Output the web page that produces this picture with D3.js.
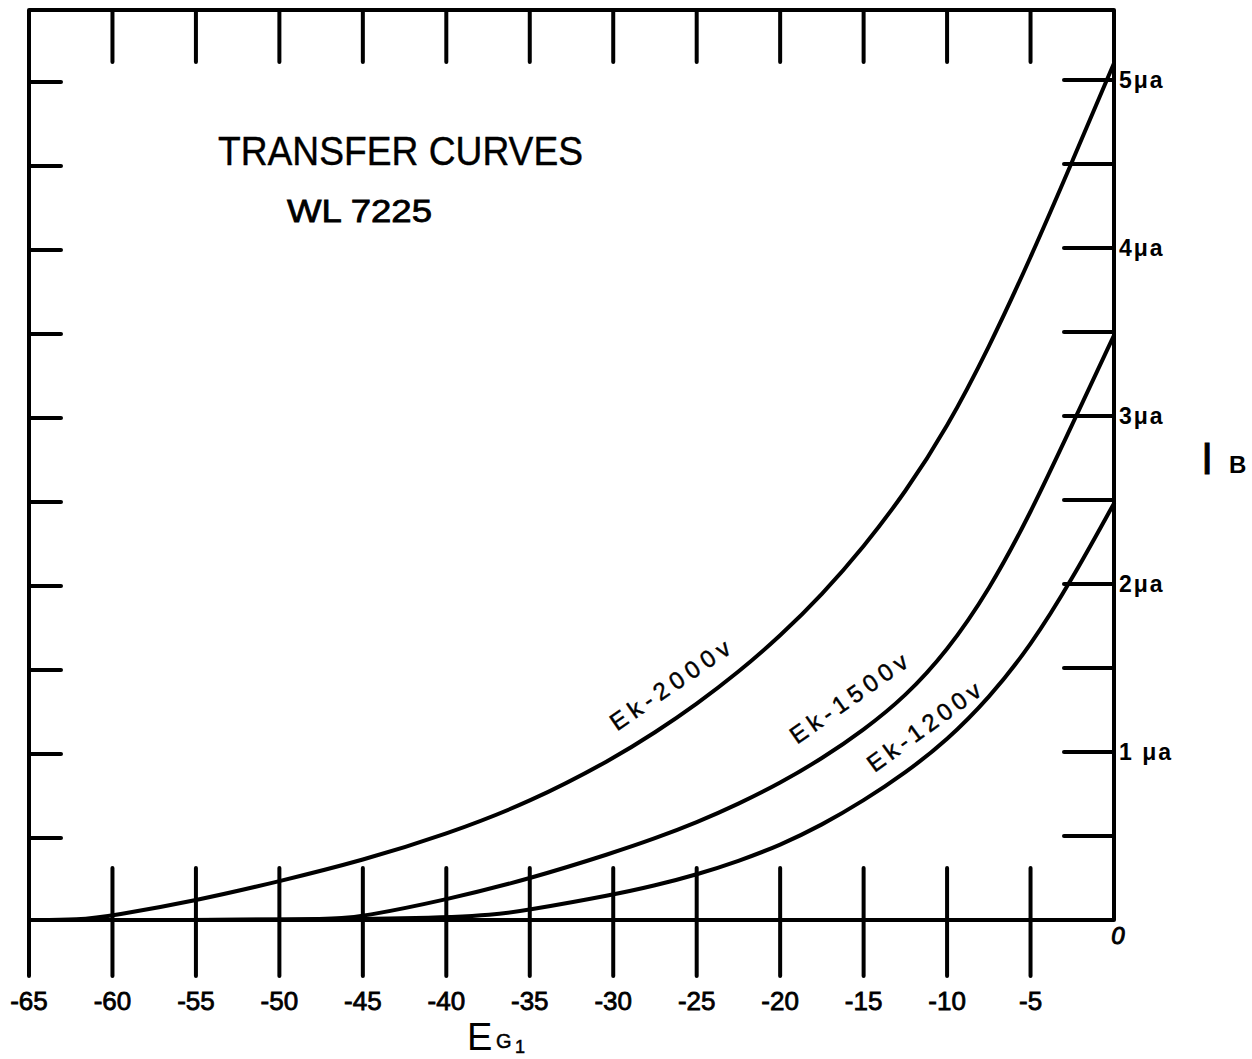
<!DOCTYPE html>
<html>
<head>
<meta charset="utf-8">
<script src="https://cdn.jsdelivr.net/npm/d3@7"></script>
<style>
  html, body { margin: 0; padding: 0; background: #fff; }
  svg { display: block; }
  text { font-family: "Liberation Sans", Arial, sans-serif; fill: #000; }
</style>
</head>
<body>
<svg id="chart" width="1252" height="1059"></svg>
<script>
// ---- Data ----
const gridVoltage2000 = [-65, -62, -60, -55, -50, -45, -40, -35, -30, -27.5, -25, -22.5, -20, -17.5, -15, -12.5, -10, -7.5, -5, -2.5, 0];
const ek2000 = [0, 0, 0.025, 0.115, 0.23, 0.355, 0.51, 0.70, 0.96, 1.115, 1.285, 1.475, 1.69, 1.935, 2.22, 2.545, 2.93, 3.405, 3.94, 4.515, 5.10];
const gridVoltage1500 = [-65, -47, -45, -40, -35, -30, -27.5, -25, -22.5, -20, -17.5, -15, -12.5, -10, -7.5, -5, -2.5, 0];
const ek1500 = [0, 0, 0.02, 0.12, 0.245, 0.40, 0.485, 0.58, 0.69, 0.815, 0.96, 1.13, 1.33, 1.60, 1.96, 2.42, 2.95, 3.48];
const gridVoltage1200 = [-65, -39, -35, -30, -27.5, -25, -22.5, -20, -17.5, -15, -12.5, -10, -7.5, -5, -2.5, 0];
const ek1200 = [0, 0, 0.06, 0.15, 0.205, 0.27, 0.35, 0.445, 0.565, 0.71, 0.875, 1.07, 1.32, 1.63, 2.03, 2.48];
const seriesNames = ["Ek-2000v", "Ek-1500v", "Ek-1200v"];
const xTickValues = [-65, -60, -55, -50, -45, -40, -35, -30, -25, -20, -15, -10, -5];
const xTickLabels = ["-65", "-60", "-55", "-50", "-45", "-40", "-35", "-30", "-25", "-20", "-15", "-10", "-5"];
const yTickValues = [0.5, 1, 1.5, 2, 2.5, 3, 3.5, 4, 4.5, 5];
const yLabelValues = [1, 2, 3, 4, 5];
const yLabelTexts = ["1 \u03bca", "2\u03bca", "3\u03bca", "4\u03bca", "5\u03bca"];

// ---- Layout ----
const svg = d3.select("#chart");
const x = d3.scaleLinear().domain([-65, 0]).range([29, 1114]);
const y = d3.scaleLinear().domain([0, 5]).range([920, 80]);
const frameTop = 10;
const SW = 4;

const g = svg.append("g");

// frame (left, top, right, bottom)
g.append("path")
  .attr("d", `M${x(-65)},${y(0) + 56} L${x(-65)},${frameTop} L${x(0)},${frameTop} L${x(0)},${y(0)} L${x(-65)},${y(0)}`)
  .attr("fill", "none").attr("stroke", "#000").attr("stroke-width", SW)
  .attr("stroke-linejoin", "round").attr("stroke-linecap", "round");

const innerX = xTickValues.filter(v => v !== -65);

// top ticks
g.selectAll(".ttick").data(innerX).join("line")
  .attr("x1", d => x(d)).attr("x2", d => x(d))
  .attr("y1", frameTop).attr("y2", frameTop + 52)
  .attr("stroke", "#000").attr("stroke-width", SW).attr("stroke-linecap", "round");

// bottom ticks crossing the axis
g.selectAll(".btick").data(innerX).join("line")
  .attr("x1", d => x(d)).attr("x2", d => x(d))
  .attr("y1", y(0) - 52).attr("y2", y(0) + 56)
  .attr("stroke", "#000").attr("stroke-width", SW).attr("stroke-linecap", "round");

// left ticks
g.selectAll(".ltick").data(yTickValues).join("line")
  .attr("x1", x(-65)).attr("x2", x(-65) + 32)
  .attr("y1", d => y(d) + 2).attr("y2", d => y(d) + 2)
  .attr("stroke", "#000").attr("stroke-width", SW).attr("stroke-linecap", "round");

// right ticks
g.selectAll(".rtick").data(yTickValues).join("line")
  .attr("x1", x(0) - 50).attr("x2", x(0))
  .attr("y1", d => y(d)).attr("y2", d => y(d))
  .attr("stroke", "#000").attr("stroke-width", SW).attr("stroke-linecap", "round");

// x tick labels
g.selectAll(".xlab").data(xTickValues).join("text")
  .attr("x", d => x(d)).attr("y", y(0) + 90)
  .attr("text-anchor", "middle")
  .attr("font-size", 26)
  .attr("stroke", "#000").attr("stroke-width", 0.8)
  .text((d, i) => xTickLabels[i]);

// zero label
g.append("text")
  .attr("x", x(0) + 4).attr("y", y(0) + 24)
  .attr("text-anchor", "middle").attr("font-size", 24).attr("font-style", "italic")
  .attr("stroke", "#000").attr("stroke-width", 1)
  .text("0");

// right labels
g.selectAll(".ylab").data(yLabelValues).join("text")
  .attr("x", x(0) + 5).attr("y", d => y(d) + 8)
  .attr("font-size", 23).attr("font-weight", "bold")
  .attr("letter-spacing", 2)
  .text((d, i) => yLabelTexts[i]);

// curves
const line = d3.line()
  .x(d => x(d[0])).y(d => y(d[1]))
  .curve(d3.curveBasis);
const series = [
  d3.zip(gridVoltage2000, ek2000),
  d3.zip(gridVoltage1500, ek1500),
  d3.zip(gridVoltage1200, ek1200)
];
g.selectAll(".curve").data(series).join("path")
  .attr("d", line)
  .attr("fill", "none").attr("stroke", "#000").attr("stroke-width", 4)
  .attr("stroke-linecap", "round");

// curve labels
const labelPos = [[-26.6, 1.40, -34.5], [-15.9, 1.32, -35], [-11.4, 1.15, -36]];
g.selectAll(".clab").data(seriesNames).join("text")
  .attr("transform", (d, i) => `translate(${x(labelPos[i][0])},${y(labelPos[i][1])}) rotate(${labelPos[i][2]})`)
  .attr("text-anchor", "middle").attr("dy", "0.35em")
  .attr("font-family", "DejaVu Sans, sans-serif")
  .attr("font-size", 24)
  .attr("textLength", (d, i) => [140, 138, 134][i]).attr("lengthAdjust", "spacing")
  .attr("stroke", "#000").attr("stroke-width", 0.5)
  .text(d => d);

// title
g.append("text")
  .attr("x", 218).attr("y", 165)
  .attr("font-size", 40)
  .attr("stroke", "#000").attr("stroke-width", 0.4)
  .attr("textLength", 365).attr("lengthAdjust", "spacingAndGlyphs")
  .text("TRANSFER  CURVES");
g.append("text")
  .attr("x", 287).attr("y", 222)
  .attr("font-size", 32)
  .attr("stroke", "#000").attr("stroke-width", 0.8)
  .attr("textLength", 145).attr("lengthAdjust", "spacingAndGlyphs")
  .text("WL  7225");

// y axis name I_B
g.append("text")
  .attr("x", 1201).attr("y", 474)
  .attr("font-family", "Liberation Serif, serif")
  .attr("font-size", 44)
  .attr("stroke", "#000").attr("stroke-width", 0.8)
  .text("I");
g.append("text")
  .attr("x", 1229).attr("y", 473)
  .attr("font-size", 24).attr("font-weight", "bold")
  .text("B");

// x axis name E_G1
g.append("text")
  .attr("x", 467).attr("y", 1050)
  .attr("font-size", 38)
  .text("E");
g.append("text")
  .attr("x", 496).attr("y", 1048)
  .attr("font-size", 20)
  .attr("stroke", "#000").attr("stroke-width", 0.5)
  .text("G");
g.append("text")
  .attr("x", 515).attr("y", 1053)
  .attr("font-size", 18)
  .attr("stroke", "#000").attr("stroke-width", 0.5)
  .text("1");
</script>
</body>
</html>
